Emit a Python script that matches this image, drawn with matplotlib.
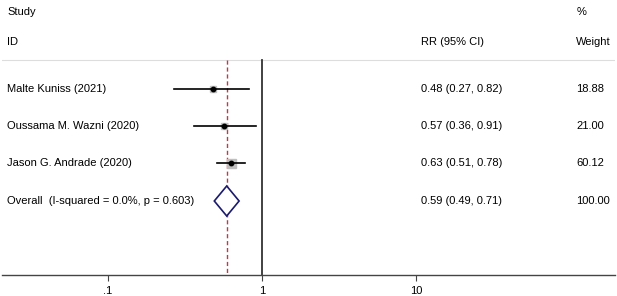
import numpy as np
import matplotlib
matplotlib.use("Agg")
import matplotlib.pyplot as plt

plt.rcParams['font.family'] = ['Liberation Sans', 'DejaVu Sans']

# study data
studies = ["Malte Kuniss (2021)", "Oussama M. Wazni (2020)", "Jason G. Andrade (2020)"]
rr = [0.48, 0.57, 0.63]
lo = [0.27, 0.36, 0.51]
hi = [0.82, 0.91, 0.78]
weights = [18.88, 21.00, 60.12]

overall_label = "Overall  (I-squared = 0.0%, p = 0.603)"
overall_rr = 0.59
overall_lo = 0.49
overall_hi = 0.71

xticks = [0.1, 1, 10]
xticklabels = [".1", "1", "10"]

W, H = 617, 296
fig = plt.figure(figsize=(W / 100, H / 100), dpi=100)
ax = fig.add_axes([2 / W, 21 / H, 613 / W, 275 / H])

# log scale: 1 -> px 262, one decade = 154 px
ax.set_xscale('log')
x0 = 10 ** ((2 - 262) / 154)
x1 = 10 ** ((615 - 262) / 154)
ax.set_xlim(x0, x1)
ax.set_ylim(275, 0)

for s in ['top', 'left', 'right']:
    ax.spines[s].set_visible(False)
ax.spines['bottom'].set_color('#444444')
ax.spines['bottom'].set_linewidth(1.0)
ax.set_yticks([])
ax.set_xticks(xticks)
ax.set_xticklabels(xticklabels, fontsize=8)
ax.minorticks_off()
ax.tick_params(axis='x', length=4, width=0.8, color='#444444', pad=4)

row_y = [89, 126, 163]
ov_y = 201

# header line and reference lines
ax.axhline(60, color='#dddddd', lw=0.8)
ax.plot([1, 1], [60, 275], color='#333333', lw=1.3)
ax.plot([overall_rr, overall_rr], [60, 275], color='#c0394a', lw=1.0, ls=(0, (3, 2)))

# studies
max_side = 9.0
for i in range(len(studies)):
    y = row_y[i]
    ax.plot([lo[i], hi[i]], [y, y], color='black', lw=1.2, zorder=3)
    side = max_side * np.sqrt(weights[i] / max(weights))
    ax.plot(rr[i], y, marker='s', ms=side * 0.72, color='#bfbfbf', mec='#bfbfbf', zorder=2)
    ax.plot(rr[i], y, marker='o', ms=3.2, color='black', zorder=4)

# overall diamond
ax.fill([overall_lo, overall_rr, overall_hi, overall_rr],
        [ov_y, ov_y - 15, ov_y, ov_y + 15],
        facecolor='white', edgecolor='#1a1a6e', lw=1.2, zorder=3)

# text columns
tx_study = 10 ** ((7 - 262) / 154)
tx_rr = 10 ** ((421 - 262) / 154)
tx_w = 10 ** ((576 - 262) / 154)
fs = 8
ax.text(tx_study, 12, "Study", fontsize=fs, va='center')
ax.text(tx_study, 42, "ID", fontsize=fs, va='center')
ax.text(tx_rr, 42, "RR (95% CI)", fontsize=fs, va='center')
ax.text(10 ** ((577 - 262) / 154), 12, "%", fontsize=fs, va='center')
ax.text(tx_w, 42, "Weight", fontsize=fs, va='center')

for i in range(len(studies)):
    y = row_y[i]
    ax.text(tx_study, y, studies[i], fontsize=fs, va='center')
    ax.text(tx_rr, y, f"{rr[i]:.2f} ({lo[i]:.2f}, {hi[i]:.2f})", fontsize=fs, va='center')
    ax.text(tx_w, y, f"{weights[i]:.2f}", fontsize=fs, va='center')

ax.text(tx_study, ov_y, overall_label, fontsize=fs, va='center')
ax.text(tx_rr, ov_y, f"{overall_rr:.2f} ({overall_lo:.2f}, {overall_hi:.2f})", fontsize=fs, va='center')
ax.text(tx_w, ov_y, f"{sum(weights):.2f}", fontsize=fs, va='center')

fig.savefig("out.png", dpi=100, facecolor='white')
